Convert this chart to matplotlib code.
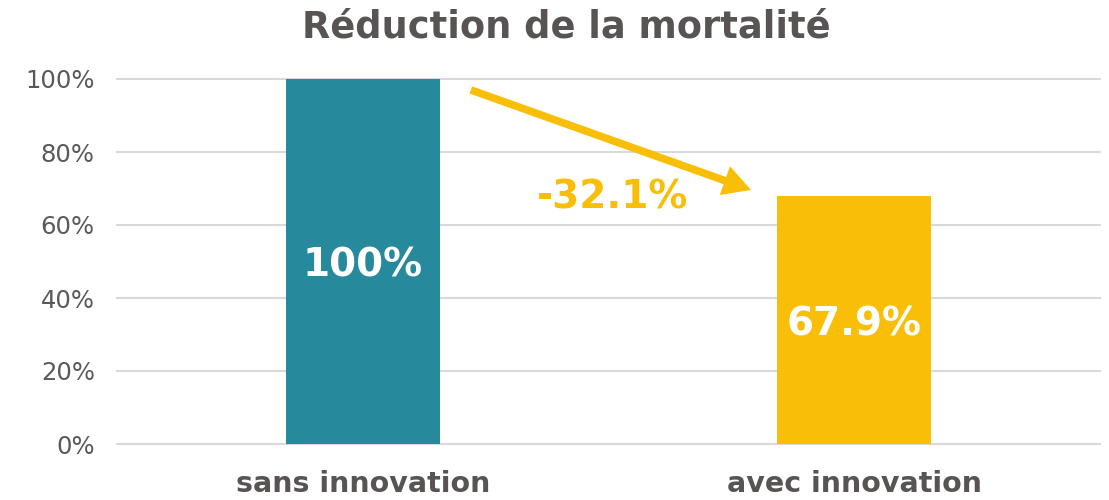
import matplotlib.pyplot as plt

categories = ['sans innovation', 'avec innovation']
values = [1.00, 0.679]
bar_labels = ['100%', '67.9%']
change_label = '-32.1%'
yticks = [0, 0.2, 0.4, 0.6, 0.8, 1.0]
ytick_labels = ['0%', '20%', '40%', '60%', '80%', '100%']

teal = '#26899C'
yellow = '#F9BE07'
grey = '#595959'
dark = '#595454'

my_dpi = 100
fig = plt.figure(figsize=(1109 / my_dpi, 500 / my_dpi), dpi=my_dpi)
ax = fig.add_axes([117 / 1109, 56 / 500, 983 / 1109, 365 / 500])

x = list(range(len(categories)))
ax.bar(x, values, width=0.313, color=[teal, yellow], zorder=3)

for xi, v, lab in zip(x, values, bar_labels):
    ax.text(xi, v / 2 - 0.012, lab, ha='center', va='center', color='white',
            fontsize=28, fontweight='bold', zorder=4)

# arrow between the two bars
ax.annotate('', xy=(x[1] - 0.21, values[1] + 0.017), xytext=(x[0] + 0.22, values[0] - 0.03),
            arrowprops=dict(arrowstyle='simple,head_length=20,head_width=22,tail_width=5.5',
                            mutation_scale=1, color=yellow, lw=0,
                            shrinkA=0, shrinkB=0), zorder=5)
ax.text((x[0] + x[1]) / 2 + 0.008, values[1] - 0.003, change_label, ha='center', va='center',
        color=yellow, fontsize=28, fontweight='bold', zorder=5)

ax.set_xlim(-0.5, 1.5)
ax.set_ylim(0, 1.0)
ax.set_yticks(yticks)
ax.set_yticklabels(ytick_labels, fontsize=17.5, color=grey)
ax.set_xticks(x)
ax.set_xticklabels(categories, fontsize=20.5, fontweight='bold', color=dark)
ax.tick_params(axis='y', length=0, pad=16)
ax.tick_params(axis='x', length=0, pad=19)
ax.grid(axis='y', color='#D9D9D9', lw=1.5, zorder=0)
for gl in ax.get_ygridlines():
    gl.set_clip_on(False)
ax.set_axisbelow(True)
for s in ax.spines.values():
    s.set_visible(False)

fig.suptitle('Réduction de la mortalité', x=566 / 1109, y=1 - 27 / 500, va='center',
             fontsize=26.5, fontweight='bold', color=dark)

plt.savefig('out.png', dpi=my_dpi)
plt.close()
